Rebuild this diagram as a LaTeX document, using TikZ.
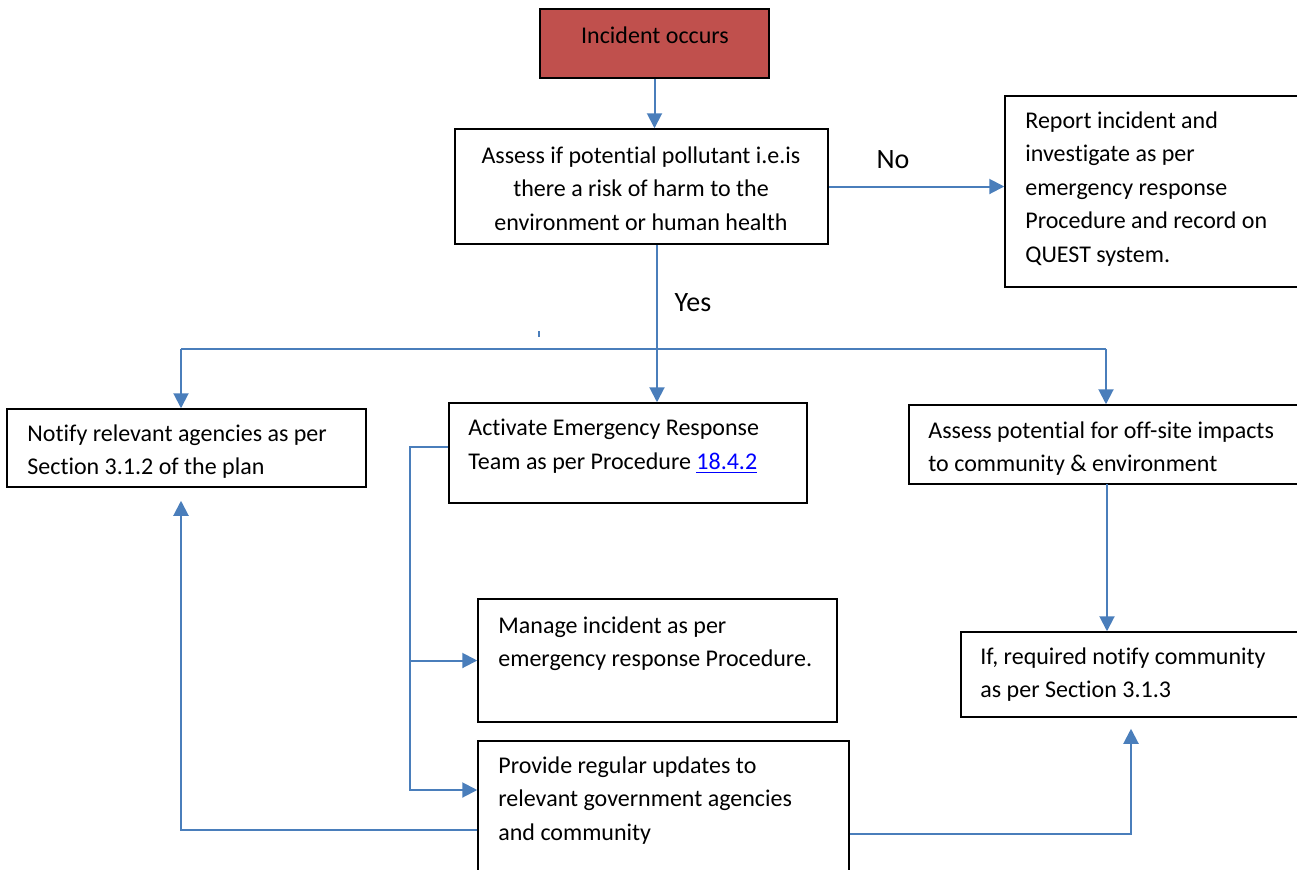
\documentclass[tikz,border=0pt]{standalone}
\usepackage{fontspec}
\setmainfont{Carlito}[Ligatures=NoCommon]
\usetikzlibrary{arrows.meta}

\definecolor{flowblue}{HTML}{4A7EBB}
\definecolor{incred}{HTML}{C0504D}
\definecolor{linkblue}{HTML}{0000FF}

\tikzset{
  box/.style={draw=black, line width=0.75pt, inner sep=0pt},
  txt/.style={inner sep=0pt, align=left, anchor=north west, font=\fontsize{12}{16.75}\selectfont},
  lbl/.style={inner sep=0pt, font=\fontsize{14}{17}\selectfont},
  flow/.style={draw=flowblue, line width=1pt},
  arr/.style={flow, -{Triangle[length=7.5pt,width=7.5pt]}},
}

\begin{document}
\begin{tikzpicture}[x=0.5pt,y=-0.5pt]

\clip (0,0) rectangle (1297,869);

% boxes
\node[box, fill=incred, minimum width=114.5pt, minimum height=34.5pt] (incident) at (654.5,43.5) {};
\node[box, minimum width=186.5pt, minimum height=57.5pt] (assess) at (641.5,186.5) {};
\node[box, minimum width=152.5pt, minimum height=95.5pt] (report) at (1157.5,191.5) {};
\node[box, minimum width=179.5pt, minimum height=39pt] (notify) at (186.5,448) {};
\node[box, minimum width=179pt, minimum height=50pt] (activate) at (628,453) {};
\node[box, minimum width=179.5pt, minimum height=61.5pt] (manage) at (657.5,660.5) {};
\node[box, minimum width=185.5pt, minimum height=79.5pt] (provide) at (663.5,820.5) {};
\node[box, minimum width=200.5pt, minimum height=39.5pt] (offsite) at (1109.5,444.5) {};
\node[box, minimum width=174.5pt, minimum height=42.5pt] (ifreq) at (1135.5,674.5) {};

% texts
\node[txt, anchor=center] (incidenttxt) at (655,35) {Incident occurs};
\node[txt, anchor=north, align=center] (assesstxt) at (641,146) {Assess if potential pollutant i.e.is\\there a risk of harm to the\\environment or human health};
\node[txt] (reporttxt) at (1025,111) {Report incident and\\investigate as per\\emergency response\\Procedure and record on\\QUEST system.};
\node[txt] (notifytxt) at (27,424) {Notify relevant agencies as per\\Section 3.1.2 of the plan};
\node[txt] (activatetxt) at (468,419) {Activate Emergency Response\\Team as per Procedure \textcolor{linkblue}{\underline{18.4.2}}};
\node[txt] (managetxt) at (498,616) {Manage incident as per\\emergency response Procedure.};
\node[txt] (providetxt) at (498,756) {Provide regular updates to\\relevant government agencies\\and community};
\node[txt] (offsitetxt) at (928,421) {Assess potential for off-site impacts\\to community \& environment};
\node[txt] (ifreqtxt) at (980,647) {If, required notify community\\as per Section 3.1.3};

% connectors
\draw[arr] (incident.south) -- (incident.south |- assess.north);
\draw[arr] (assess.east) -- (assess.east -| report.west);
\node[lbl] (no) at (893,160) {No};

\coordinate (split) at (657,349);
\draw[arr] (split |- assess.south) -- (split |- activate.north);
\node[lbl] (yes) at (693,303) {Yes};

\coordinate (busl) at (181,349);
\coordinate (busr) at (1106,349);
\draw[flow] (busl) -- (busr);
\draw[arr] (busl) -- (busl |- notify.north);
\draw[arr] (busr) -- (busr |- offsite.north);
\coordinate (tick) at (539,331);
\draw[flow] (tick) -- ++(0,6);

\coordinate (trunk) at (410,790);
\draw[arr] ([yshift=3pt]activate.west) -| (trunk) -- (trunk -| provide.west);
\draw[arr] (trunk |- manage.west) -- (manage.west);

\coordinate (backl) at (181,830);
\draw[arr, shorten >=6.5pt] (provide.west |- backl) -- (backl) -- (backl |- notify.south);
\coordinate (backr) at (1131,834);
\draw[arr, shorten >=5.5pt] (provide.east |- backr) -- (backr) -- (backr |- ifreq.south);

\coordinate (down) at (1107,484);
\draw[arr] (down) -- (down |- ifreq.north);

\end{tikzpicture}
\end{document}
